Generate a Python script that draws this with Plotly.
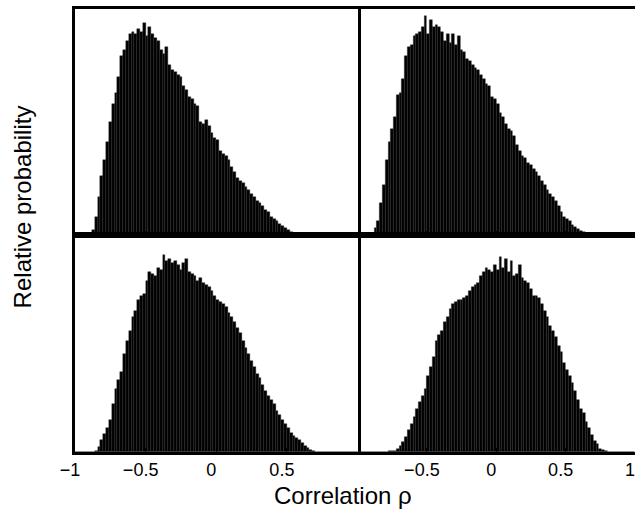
import numpy as np
import plotly.graph_objects as go

# Bin centres (bin width 0.02 over [-1, 1])
bin_centers = np.round(np.arange(-0.99, 1.0, 0.02), 2)
bin_width = 0.02

top_left = [0, 0, 0, 0, 0, 0.5, 2, 8, 17, 26, 33, 41, 50, 58, 63, 70, 79, 82, 86, 89,
            90, 89, 91, 90, 94, 88, 92, 89, 87, 86, 82, 80, 83, 75, 73, 72, 71, 70, 66, 64,
            61, 60, 58, 57, 50, 49, 51, 48, 45, 43, 42, 37, 36, 35, 33, 30, 28, 25, 24, 23,
            21, 20, 18, 17, 15, 14, 13, 11, 10, 8, 7, 6, 5, 4, 3, 2, 1.2, 0.5, 0.2,
            0, 0, 0, 0, 0, 0, 0, 0, 0, 0, 0, 0, 0, 0, 0, 0, 0, 0, 0, 0, 0]

top_right = [0, 0.1, 0.2, 0.3, 0.5, 1, 3, 6, 14, 22, 33, 41, 47, 52, 62, 63, 69, 79, 83, 84,
             88, 89, 90, 92, 97, 89, 95, 92, 93, 92, 90, 86, 89, 85, 89, 84, 88, 82, 81, 78,
             77, 75, 74, 73, 71, 69, 67, 66, 61, 60, 58, 54, 52, 49, 47, 46, 44, 40, 37, 35,
             34, 32, 31, 29, 28, 26, 24, 22, 20, 18, 17, 15, 13, 10, 8, 7, 6, 4.5, 3.5, 2.5,
             1.8, 1.3, 0.8, 0.5, 0.3, 0.2, 0.1,
             0, 0, 0, 0, 0, 0, 0, 0, 0, 0, 0, 0, 0]

bottom_left = [0, 0, 0, 0, 0, 0, 0.2, 0.6, 2.5, 5.5, 8.5, 11, 15, 22, 29, 33, 37, 45, 51, 56,
               62, 65, 70, 72, 73, 79, 83, 82, 81, 85, 84, 91, 88, 89, 87, 88, 86, 84, 87, 89,
               83, 82, 81, 79, 80, 78, 77, 76, 74, 72, 70, 69, 68, 67, 64, 62, 60, 57, 55, 51,
               48, 45, 42, 39, 36, 34, 31, 28, 26, 24, 22, 19, 17, 15, 13, 11, 9, 7.5, 6.5, 5.5,
               4, 3, 2, 1, 0.5, 0.2,
               0, 0, 0, 0, 0, 0, 0, 0, 0, 0, 0, 0, 0, 0]

bottom_right = [0, 0, 0, 0, 0, 0, 0, 0, 0, 0, 0.2, 0.3, 0.4, 0.7, 1.5, 2.8, 4.5, 7, 10, 13,
                16, 20, 23, 26, 29, 35, 39, 44, 51, 54, 56, 60, 62, 66, 68, 69, 70, 70, 71, 72,
                74, 76, 77, 78, 81, 83, 85, 84, 83, 86, 84, 90, 85, 89, 83, 88, 81, 82, 86, 80,
                79, 78, 75, 72, 72, 71, 68, 65, 62, 58, 56, 53, 49, 46, 41, 38, 35, 32, 28, 24,
                20, 18, 14, 11, 8, 5, 3.5, 1.5, 0.8, 0.3,
                0, 0, 0, 0, 0, 0, 0, 0, 0, 0]

left_tickvals = [-1, -0.5, 0, 0.5]
left_ticktext = ["\u22121", "\u22120.5", "0", "0.5"]
right_tickvals = [-0.5, 0, 0.5, 1]
right_ticktext = ["\u22120.5", "0", "0.5", "1"]

FONT = "Liberation Sans, Arial, Helvetica, sans-serif"

fig = go.Figure()
panels = [
    (top_left, "x", "y"),
    (top_right, "x2", "y"),
    (bottom_left, "x3", "y2"),
    (bottom_right, "x4", "y2"),
]
for vals, xa, ya in panels:
    fig.add_trace(go.Bar(
        x=bin_centers, y=vals, width=bin_width,
        marker=dict(color="black", line=dict(color="#2a2a2a", width=0.4)),
        xaxis=xa, yaxis=ya, showlegend=False, hoverinfo="skip",
    ))

split_x = 0.5045
split_y = 0.49
common_x = dict(range=[-1, 1], showline=True, linecolor="black", linewidth=2.5,
                mirror=True, ticks="inside", ticklen=4, tickwidth=1, tickcolor="black",
                showgrid=False, zeroline=False, ticklabeloverflow="allow",
                tickfont=dict(family=FONT, size=18, color="black"))
common_y = dict(range=[0, 100], showline=True, linecolor="black", linewidth=2.5,
                mirror=True, ticks="", showticklabels=False, showgrid=False,
                zeroline=False)

fig.update_layout(
    width=638, height=512,
    margin=dict(l=75, r=3, t=9, b=60),
    paper_bgcolor="white", plot_bgcolor="white",
    bargap=0,
    xaxis=dict(common_x, domain=[0, split_x], anchor="y",
               tickvals=[-0.5, 0, 0.5], showticklabels=False),
    xaxis2=dict(common_x, domain=[split_x, 1], anchor="y",
                tickvals=[-0.5, 0, 0.5], showticklabels=False),
    xaxis3=dict(common_x, domain=[0, split_x], anchor="y2", ticklabelshift=-5,
                tickvals=left_tickvals, ticktext=left_ticktext),
    xaxis4=dict(common_x, domain=[split_x, 1], anchor="y2", ticklabelshift=-5,
                tickvals=right_tickvals, ticktext=right_ticktext),
    yaxis=dict(common_y, domain=[split_y, 1], anchor="x"),
    yaxis2=dict(common_y, domain=[0, split_y], anchor="x3"),
    annotations=[
        dict(text="Correlation \u03c1", xref="paper", yref="paper", x=0.478, y=-0.099,
             xanchor="center", yanchor="middle", showarrow=False,
             font=dict(family=FONT, size=24, color="black")),
        dict(text="Relative probability", xref="paper", yref="paper", x=-0.094, y=0.553,
             xanchor="center", yanchor="middle", showarrow=False, textangle=-90,
             font=dict(family=FONT, size=24, color="black")),
    ],
)

fig.write_html("out.html", config={"displayModeBar": False},
               post_script="document.body.style.margin='0';document.body.style.padding='0';")
